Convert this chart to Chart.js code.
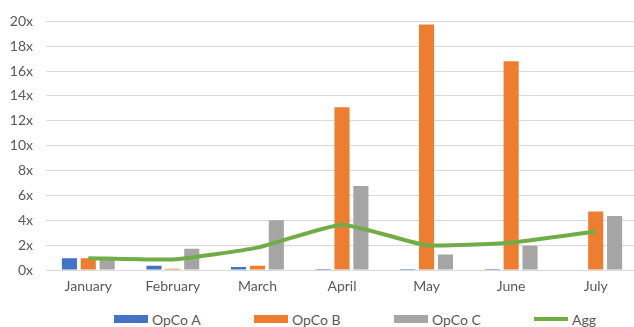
<!DOCTYPE html>
<html>
<head>
<meta charset="utf-8">
<script src="https://cdn.jsdelivr.net/npm/chart.js@4"></script>
<style>
  html, body { margin: 0; padding: 0; background: #fff; overflow: hidden; }
  #wrap { position: relative; width: 634px; height: 327px; overflow: hidden; }
  #barChart { position: absolute; left: 0; top: 0; }
  #legend { position: absolute; left: 114px; top: 311px; display: flex; font: 14px Lato, sans-serif; color: #595959; }
  .item { display: flex; align-items: center; width: 140px; height: 16px; }
  .item:last-child { width: auto; }
  .swatch { width: 34px; margin-right: 4px; }
</style>
</head>
<body>
<div id="wrap">
  <canvas id="barChart" width="638" height="305"></canvas>
  <div id="legend"></div>
</div>
<script>
// Chart data
const months = ["January", "February", "March", "April", "May", "June", "July"];
const opcoA = [0.95, 0.35, 0.25, 0.08, 0.08, 0.08, 0];
const opcoB = [0.95, 0.1, 0.35, 13.1, 19.75, 16.8, 4.7];
const opcoC = [0.9, 1.7, 4.0, 6.75, 1.25, 1.95, 4.35];
const agg = [0.95, 0.85, 1.8, 3.65, 2.0, 2.2, 3.1];

const textColor = "#595959";
Chart.defaults.font.family = "Lato, sans-serif";
Chart.defaults.font.size = 14;
Chart.defaults.color = textColor;

const chartData = {
    labels: months,
    datasets: [
        { label: "OpCo A", data: opcoA, backgroundColor: "#4472C4", order: 1 },
        { label: "OpCo B", data: opcoB, backgroundColor: "#ED7D31", order: 1 },
        { label: "OpCo C", data: opcoC, backgroundColor: "#A5A5A5", order: 1 },
        {
            label: "Agg",
            type: "line",
            data: agg,
            borderColor: "#70AD47",
            backgroundColor: "#70AD47",
            borderWidth: 4,
            pointRadius: 0,
            tension: 0.15,
            order: 0,
        },
    ],
};

const config = {
    type: "bar",
    data: chartData,
    options: {
        responsive: false,
        animation: false,
        layout: { padding: { top: 17, bottom: 10, left: 0, right: 0 } },
        datasets: {
            bar: { categoryPercentage: 0.67, barPercentage: 0.8 },
        },
        plugins: {
            legend: { display: false },
            tooltip: { enabled: false },
        },
        scales: {
            x: {
                grid: { display: false, drawTicks: false },
                border: { color: "#D9D9D9" },
                ticks: { padding: 8, color: textColor },
                afterFit: (s) => { s.height = 25; },
            },
            y: {
                min: 0,
                max: 20,
                afterFit: (s) => { s.width = 46; },
                grid: { color: "#D9D9D9", drawTicks: false },
                border: { display: false },
                ticks: {
                    stepSize: 2,
                    padding: 13,
                    color: textColor,
                    callback: (v) => v + "x",
                },
            },
        },
    },
};

const ctx = document.getElementById("barChart").getContext("2d");
const chart = new Chart(ctx, config);

// HTML legend in dataset order
const legend = document.getElementById("legend");
chart.data.datasets.forEach((ds) => {
    const item = document.createElement("div");
    item.className = "item";
    const sw = document.createElement("span");
    sw.className = "swatch";
    sw.style.height = ds.type === "line" ? "4px" : "8px";
    sw.style.background = ds.type === "line" ? ds.borderColor : ds.backgroundColor;
    const txt = document.createElement("span");
    txt.textContent = ds.label;
    item.appendChild(sw);
    item.appendChild(txt);
    legend.appendChild(item);
});
</script>
</body>
</html>
